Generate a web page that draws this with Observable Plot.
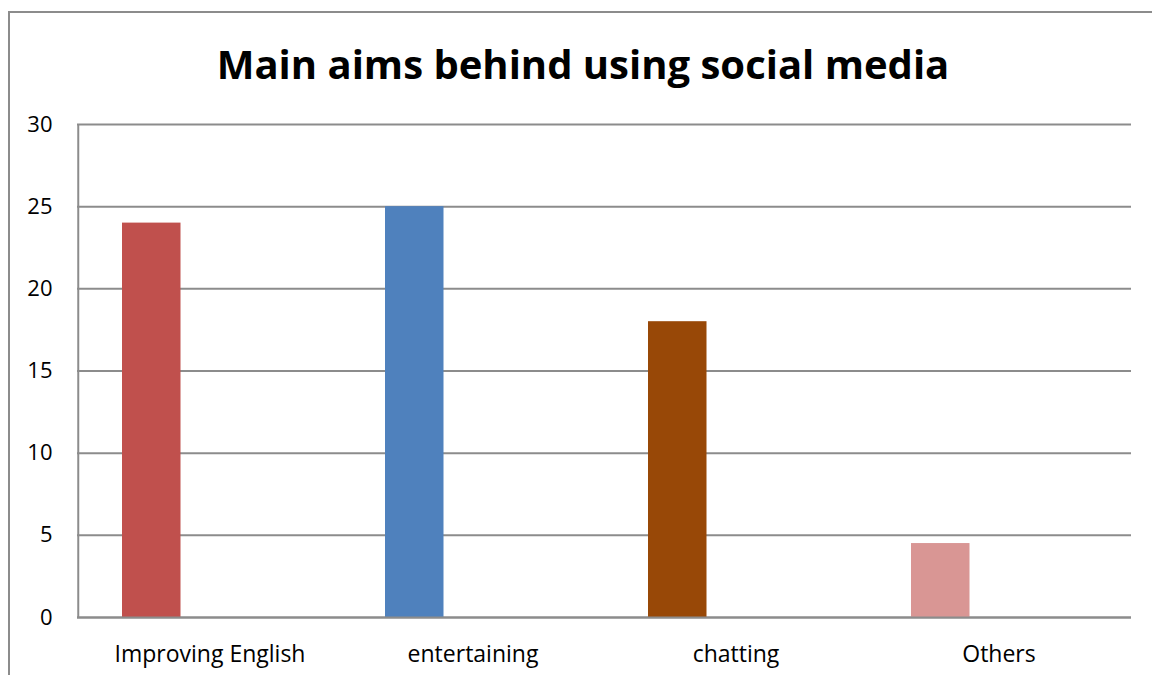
<!DOCTYPE html>
<html>
<head>
<meta charset="utf-8">
<script src="https://cdn.jsdelivr.net/npm/d3@7"></script>
<script src="https://cdn.jsdelivr.net/npm/@observablehq/plot@0.6"></script>
<style>
  html, body { margin: 0; padding: 0; background: #fff; width: 1152px; height: 675px; overflow: hidden; }
  #frame { position: absolute; left: 8px; top: 11px; width: 1200px; height: 700px; border-left: 2px solid #8c8c8c; border-top: 2px solid #8c8c8c; }
  #title { position: absolute; left: 0; width: 1166px; top: 40px; text-align: center; font-family: "Open Sans", sans-serif; font-weight: bold; font-size: 40px; color: #000; line-height: 1.2; }
  #chart { position: absolute; left: 0; top: 100px; }
</style>
</head>
<body>
<div id="frame"></div>
<div id="title">Main aims behind using social media</div>
<div id="chart"></div>
<script>
const categories = ["Improving English", "entertaining", "chatting", "Others"];
const values = [24, 25, 18, 4.5];
const colors = ["#C0504D", "#4F81BD", "#984807", "#D99694"];
const yTicks = [0, 5, 10, 15, 20, 25, 30];

const data = categories.map((c, i) => ({category: c, value: values[i], color: colors[i]}));

const chart = Plot.plot({
  width: 1152,
  height: 575,
  marginTop: 24,
  marginBottom: 58,
  marginLeft: 77,
  marginRight: 21,
  style: { fontFamily: "'Open Sans', sans-serif", color: "#000", background: "transparent" },
  x: { domain: categories, padding: 0, label: null },
  y: { domain: [0, 30], label: null },
  marks: [
    Plot.ruleY(yTicks, { stroke: "#8c8c8c", strokeWidth: 2 }),
    Plot.barY(data, { x: "category", y: "value", fill: "color", insetLeft: 44, insetRight: 160.5 }),
    Plot.ruleY([0], { stroke: "#8c8c8c", strokeWidth: 2 }),
    Plot.ruleX([categories[0]], { y1: 0, y2: 30, stroke: "#8c8c8c", strokeWidth: 2, dx: -131.75 }),
    Plot.axisY(yTicks, { tickSize: 0, tickPadding: 25, fontSize: 22, fill: "#000" }),
    Plot.axisX(categories, { tickSize: 0, tickPadding: 28, fontSize: 23, fill: "#000" })
  ]
});
document.getElementById("chart").appendChild(chart);
</script>
</body>
</html>
